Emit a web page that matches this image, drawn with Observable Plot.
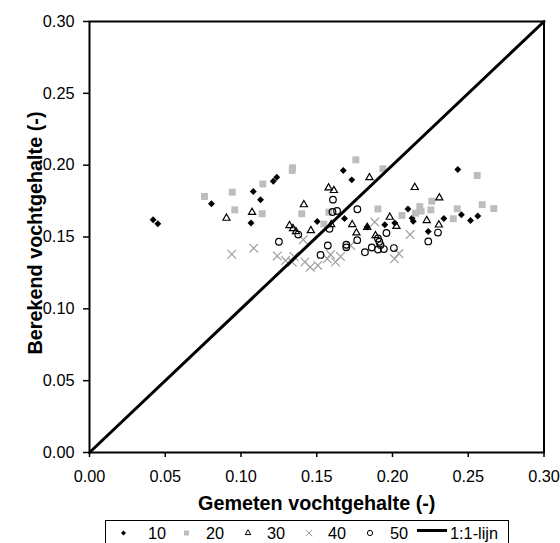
<!DOCTYPE html>
<html><head><meta charset="utf-8">
<script src="https://cdn.jsdelivr.net/npm/d3@7"></script>
<script src="https://cdn.jsdelivr.net/npm/@observablehq/plot@0.6"></script>
<style>
body{margin:0;background:#fff;font-family:"Liberation Sans",Arial,sans-serif;}
#wrap{position:relative;width:560px;height:543px;overflow:hidden;background:#fff;}
#chart svg{display:block;}
#legend{position:absolute;left:105px;top:520px;width:404px;height:26px;border:1px solid #000;box-sizing:border-box;background:#fff;}
#legend svg{display:block;}
</style></head><body>
<div id="wrap"><div id="chart"></div><div id="legend"></div></div>
<script>
// Series "10" (black diamonds)
const s10x = [0.0420,0.0451,0.0805,0.1081,0.1129,0.1066,0.1213,0.1236,0.1503,0.1675,0.1731,0.1683,0.1833,0.1949,0.2015,0.2102,0.2129,0.2137,0.2236,0.2339,0.2431,0.2455,0.2515,0.2563];
const s10y = [0.1620,0.1592,0.1731,0.1817,0.1759,0.1597,0.1888,0.1916,0.1608,0.1963,0.1898,0.1629,0.1570,0.1585,0.1597,0.1695,0.1631,0.1610,0.1538,0.1629,0.1970,0.1655,0.1615,0.1646];
// Series "20" (grey squares)
const s20x = [0.0759,0.0942,0.0959,0.1144,0.1140,0.1338,0.1340,0.1401,0.1547,0.1580,0.1758,0.1937,0.1904,0.2063,0.2180,0.2152,0.2189,0.2253,0.2259,0.2427,0.2401,0.2559,0.2592,0.2669];
const s20y = [0.1782,0.1812,0.1689,0.1869,0.1662,0.1963,0.1982,0.1662,0.1590,0.1673,0.2037,0.1975,0.1695,0.1650,0.1712,0.1666,0.1680,0.1689,0.1749,0.1696,0.1627,0.1928,0.1725,0.1698];
// Series "30" (open triangles)
const s30x = [0.0904,0.1073,0.1415,0.1320,0.1343,0.1363,0.1461,0.1578,0.1613,0.1595,0.1734,0.1762,0.1833,0.1848,0.1888,0.1982,0.2026,0.2147,0.2226,0.2309,0.2306];
const s30y = [0.1631,0.1672,0.1725,0.1580,0.1559,0.1538,0.1545,0.1842,0.1824,0.1587,0.1586,0.1529,0.1568,0.1913,0.1510,0.1638,0.1574,0.1845,0.1615,0.1773,0.1584];
// Series "40" (grey crosses)
const s40x = [0.0939,0.1084,0.1239,0.1294,0.1350,0.1338,0.1411,0.1422,0.1457,0.1507,0.1569,0.1591,0.1624,0.1657,0.1723,0.1883,0.2013,0.2042,0.2116];
const s40y = [0.1380,0.1422,0.1368,0.1336,0.1364,0.1325,0.1481,0.1326,0.1290,0.1302,0.1348,0.1378,0.1326,0.1364,0.1441,0.1604,0.1348,0.1385,0.1517];
// Series "50" (open circles)
const s50x = [0.1250,0.1378,0.1525,0.1573,0.1607,0.1604,0.1634,0.1584,0.1768,0.1767,0.1695,0.1695,0.1818,0.1863,0.1904,0.1913,0.1921,0.1904,0.1943,0.1960,0.2009,0.2236,0.2300];
const s50y = [0.1467,0.1517,0.1375,0.1441,0.1760,0.1674,0.1681,0.1557,0.1693,0.1478,0.1446,0.1428,0.1394,0.1427,0.1490,0.1467,0.1444,0.1413,0.1416,0.1528,0.1423,0.1469,0.1531];
// 1:1 line
const lineX = [0, 0.30];
const lineY = [0, 0.30];
const axisTicks = [0, 0.05, 0.10, 0.15, 0.20, 0.25, 0.30];
const seriesNames = ["10", "20", "30", "40", "50", "1:1-lijn"];
const xTitle = "Gemeten vochtgehalte (-)";
const yTitle = "Berekend vochtgehalte (-)";

const toRows = (xs, ys) => xs.map((x, i) => ({x, y: ys[i]}));
const r10 = toRows(s10x, s10y), r20 = toRows(s20x, s20y), r30 = toRows(s30x, s30y),
      r40 = toRows(s40x, s40y), r50 = toRows(s50x, s50y), rLine = toRows(lineX, lineY);
const fmt = d3.format(".2f");
const FONT = '"Liberation Sans", Arial, sans-serif';

const chart = Plot.plot({
  width: 560, height: 518,
  marginLeft: 89, marginRight: 16.5, marginTop: 21, marginBottom: 66,
  style: {fontFamily: FONT, fontSize: "16.3px", color: "#000", background: "#fff"},
  x: {domain: [0, 0.30]},
  y: {domain: [0, 0.30]},
  marks: [
    Plot.axisX({ticks: axisTicks, tickFormat: fmt, tickSize: 5, tickPadding: 13, label: null, strokeWidth: 1.5}),
    Plot.axisY({ticks: axisTicks, tickFormat: fmt, tickSize: 6, tickPadding: 9, label: null, strokeWidth: 1.5}),
    Plot.frame({stroke: "#000", strokeWidth: 2}),
    Plot.dot(r10, {x: "x", y: "y", symbol: "diamond2", r: 3.1, fill: "#000", stroke: "none"}),
    Plot.dot(r20, {x: "x", y: "y", symbol: "square", r: 3.9, fill: "#bdbdbd", stroke: "none"}),
    Plot.dot(r30, {x: "x", y: "y", symbol: "triangle2", r: 3.4, stroke: "#000", strokeWidth: 1.2, fill: "none"}),
    Plot.dot(r40, {x: "x", y: "y", symbol: "times", r: 4, stroke: "#a0a0a0", strokeWidth: 1.2}),
    Plot.dot(r50, {x: "x", y: "y", symbol: "circle", r: 3.3, stroke: "#000", strokeWidth: 1.2, fill: "none"}),
    Plot.line(rLine, {x: "x", y: "y", stroke: "#000", strokeWidth: 3}),
    Plot.text([xTitle], {text: d => d, frameAnchor: "bottom", textAnchor: "middle", lineAnchor: "middle", dy: 51.3, fontSize: 19.8, fontWeight: "bold"}),
    Plot.text([yTitle], {text: d => d, frameAnchor: "left", textAnchor: "middle", lineAnchor: "middle", rotate: -90, dx: -54, dy: -4, fontSize: 19.8, fontWeight: "bold"})
  ]
});
document.getElementById("chart").appendChild(chart);

// Legend (below the chart)
const L = d3.select("#legend").append("svg").attr("width", 402).attr("height", 24)
  .style("font-family", FONT).style("font-size", "16.3px");
const my = 12, ty = 18;
const sym = (type, size) => d3.symbol(type, size)();
const items = [
  {mx: 17.5, tx: 42, draw: g => g.append("path").attr("d", sym(d3.symbolDiamond2, 16)).attr("fill", "#000")},
  {mx: 80.5, tx: 100, draw: g => g.append("path").attr("d", sym(d3.symbolSquare, 25)).attr("fill", "#bdbdbd")},
  {mx: 142, tx: 161, draw: g => g.append("path").attr("d", sym(d3.symbolTriangle2, 22)).attr("fill", "none").attr("stroke", "#000").attr("stroke-width", 1)},
  {mx: 203, tx: 222, draw: g => g.append("path").attr("d", sym(d3.symbolTimes, 30)).attr("fill", "none").attr("stroke", "#a0a0a0").attr("stroke-width", 1)},
  {mx: 264, tx: 284, draw: g => g.append("circle").attr("r", 2.6).attr("fill", "none").attr("stroke", "#000").attr("stroke-width", 1)},
  {mx: null, tx: 344, draw: null}
];
items.forEach((it, i) => {
  if (it.draw) {
    const g = L.append("g").attr("transform", `translate(${it.mx},${my})`);
    it.draw(g);
  } else {
    L.append("line").attr("x1", 311).attr("x2", 341).attr("y1", 9.5).attr("y2", 9.5)
      .attr("stroke", "#000").attr("stroke-width", 3);
  }
  L.append("text").attr("x", it.tx).attr("y", ty).attr("fill", "#000").text(seriesNames[i]);
});
</script>
</body></html>
